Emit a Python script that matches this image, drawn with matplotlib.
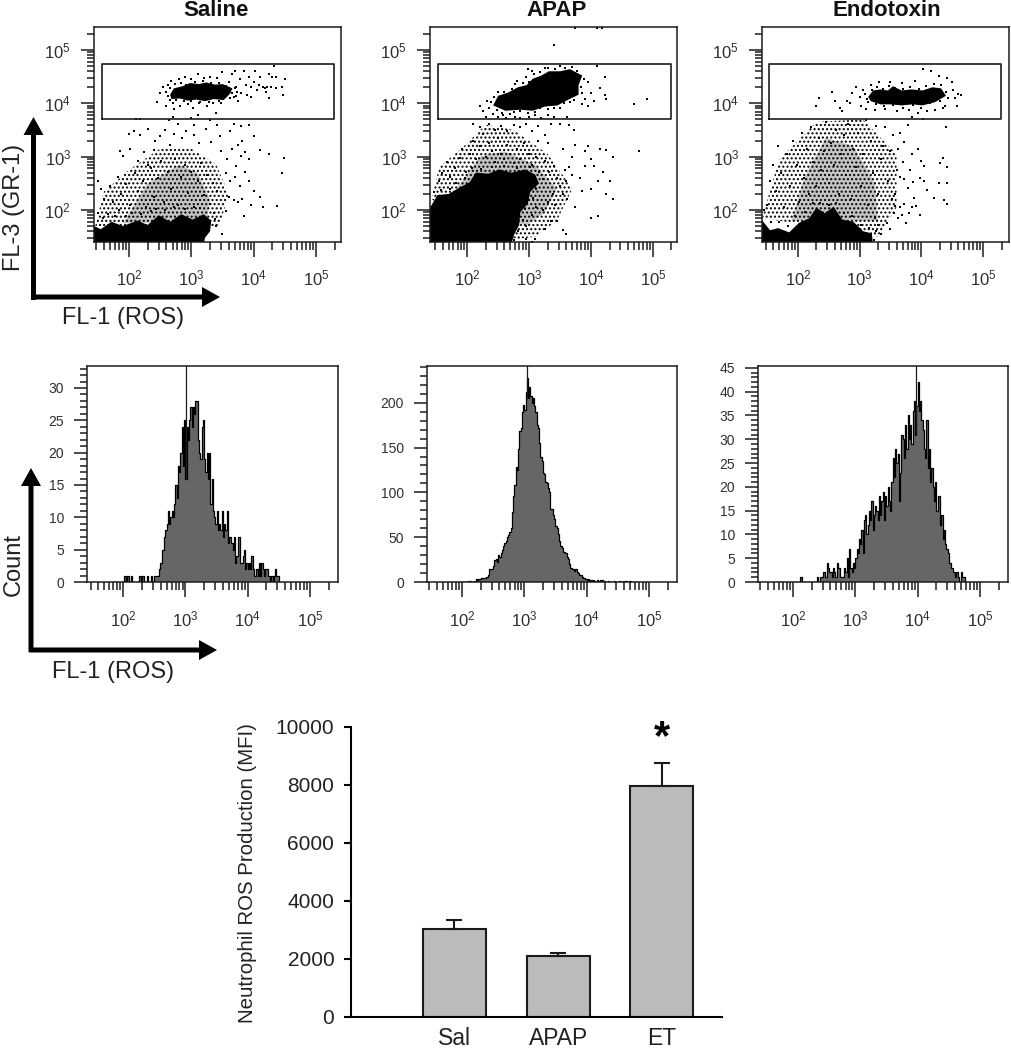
import numpy as np
import matplotlib
matplotlib.use('Agg')
import matplotlib.pyplot as plt

plt.rcParams['font.family'] = ['Liberation Sans', 'DejaVu Sans']
plt.rcParams['mathtext.fontset'] = 'custom'
plt.rcParams['mathtext.rm'] = 'Liberation Sans'
plt.rcParams['mathtext.default'] = 'regular'

W, H = 1012, 1050

titles = ['Saline', 'APAP', 'Endotoxin']
decades = [2, 3, 4, 5]
bar_labels = ['Sal', 'APAP', 'ET']
bar_values = [3030, 2115, 7980]
bar_errors = [325, 90, 780]
bar_yticks = [0, 2000, 4000, 6000, 8000, 10000]

# gate on FL-3, log10 units
gate_x = [[1.57, 5.29], [1.53, 5.29], [1.53, 5.29]]
gate_y = [3.70, 4.73]

saline_gate_blob = [(2.66, 4.16), (2.72, 4.28), (2.86, 4.32), (2.98, 4.38), (3.12, 4.36), (3.24, 4.39), (3.38, 4.35), (3.50, 4.36), (3.66, 4.28), (3.62, 4.18), (3.52, 4.06), (3.36, 4.08), (3.22, 4.04), (3.08, 4.07), (2.94, 4.05), (2.82, 4.09), (2.68, 4.08)]
saline_low_blob = [(1.4, 1.3), (1.4, 1.72), (1.55, 1.64), (1.72, 1.78), (1.90, 1.70), (2.14, 1.80), (2.30, 1.72), (2.48, 1.90), (2.66, 1.78), (2.84, 1.92), (3.02, 1.82), (3.20, 1.92), (3.32, 1.80), (3.30, 1.60), (3.22, 1.48), (3.19, 1.3)]
apap_gate_blob = [(2.42, 3.96), (2.50, 4.14), (2.66, 4.20), (2.82, 4.30), (2.96, 4.34), (3.06, 4.46), (3.20, 4.52), (3.32, 4.60), (3.50, 4.60), (3.66, 4.64), (3.86, 4.52), (3.80, 4.34), (3.80, 4.16), (3.62, 4.06), (3.46, 3.96), (3.26, 3.94), (3.06, 3.86), (2.86, 3.88), (2.62, 3.86)]
apap_low_blob = [(1.4, 1.3), (1.4, 2.04), (1.52, 2.28), (1.70, 2.30), (1.88, 2.42), (2.04, 2.52), (2.14, 2.70), (2.34, 2.68), (2.52, 2.76), (2.72, 2.70), (2.94, 2.76), (3.10, 2.66), (3.16, 2.50), (3.02, 2.34), (2.98, 2.12), (2.86, 1.96), (2.84, 1.72), (2.76, 1.54), (2.70, 1.3)]
et_gate_blob = [(3.14, 4.12), (3.22, 4.24), (3.34, 4.26), (3.46, 4.24), (3.54, 4.32), (3.68, 4.24), (3.84, 4.26), (4.02, 4.24), (4.18, 4.30), (4.32, 4.28), (4.40, 4.14), (4.22, 4.02), (4.02, 3.96), (3.86, 3.98), (3.68, 3.96), (3.50, 3.98), (3.34, 3.98), (3.18, 4.04)]
et_low_blob = [(1.4, 1.3), (1.4, 1.84), (1.55, 1.62), (1.68, 1.66), (1.86, 1.58), (2.02, 1.76), (2.18, 1.84), (2.30, 2.04), (2.44, 1.94), (2.58, 2.06), (2.72, 1.82), (2.90, 1.78), (3.06, 1.60), (3.20, 1.56), (3.22, 1.3)]

# speckled regions, outer one thin and inner one heavier
saline_cloud = [(1.46, 1.7), (1.6, 2.35), (2.0, 2.75), (2.5, 3.15), (3.0, 3.15), (3.4, 2.85), (3.6, 2.3), (3.45, 1.7)]
saline_core = [(1.9, 1.75), (2.3, 2.5), (2.8, 2.85), (3.1, 2.7), (3.3, 2.2), (3.25, 1.8)]
apap_cloud = [(1.42, 2.2), (1.55, 2.8), (1.95, 3.2), (2.3, 3.6), (2.75, 3.5), (3.3, 3.05), (3.7, 2.4), (3.45, 1.8), (3.1, 1.5), (2.8, 1.45)]
apap_core = [(1.8, 2.35), (2.2, 3.0), (2.6, 3.1), (3.1, 2.85), (3.45, 2.4), (3.25, 1.95), (2.95, 1.7)]
et_cloud = [(1.42, 1.85), (1.7, 2.95), (2.3, 3.65), (3.05, 3.7), (3.6, 3.05), (3.6, 2.05), (3.3, 1.5)]
et_core = [(1.9, 1.8), (2.1, 2.6), (2.45, 3.35), (2.9, 3.2), (3.25, 2.5), (3.3, 1.8)]

# single events (log10 FL-1, log10 FL-3)
saline_pts = [
    (3.60, 4.40), (3.65, 4.55), (3.70, 4.60), (3.72, 4.30), (3.78, 4.45), (3.80, 4.20), (3.85, 4.60), (3.88, 4.35),
    (3.90, 4.15), (3.92, 4.50), (3.95, 4.30), (4.00, 4.40), (4.02, 4.60), (4.05, 4.25), (4.08, 4.35), (4.10, 4.50),
    (4.15, 4.30), (4.18, 4.28), (4.20, 4.22), (4.22, 4.30), (4.25, 4.55), (4.28, 4.30), (4.30, 4.50), (4.33, 4.70),
    (4.35, 4.28), (4.36, 4.50), (4.45, 4.30), (4.47, 4.15), (4.50, 4.45), (4.25, 4.10), (3.75, 4.05), (3.95, 4.12),
    (2.45, 4.02), (2.50, 4.20), (2.55, 4.30), (2.60, 3.95), (2.62, 4.35), (2.68, 4.42), (2.70, 4.00), (2.72, 3.90),
    (2.80, 4.45), (2.82, 3.95), (2.90, 4.50), (2.95, 3.98), (3.00, 4.45), (3.02, 3.92), (3.10, 4.55), (3.12, 4.00),
    (3.20, 4.48), (3.25, 3.95), (3.30, 4.50), (3.35, 4.00), (3.40, 3.82), (3.42, 4.47), (3.48, 4.00), (3.50, 4.58),
    (2.12, 3.70), (2.18, 3.70), (2.65, 3.68), (2.70, 3.75), (2.78, 3.62), (3.00, 3.72), (3.05, 3.60), (3.10, 3.78),
    (3.30, 3.68), (3.42, 3.60), (3.68, 3.62), (3.80, 3.58), (3.92, 3.60), (2.00, 3.42), (2.08, 3.48), (2.18, 3.40),
    (2.30, 3.52), (2.42, 3.30), (2.50, 3.38), (2.58, 3.50), (2.66, 3.22), (2.72, 3.42), (2.85, 3.35), (2.92, 3.48),
    (3.05, 3.40), (3.12, 3.25), (3.24, 3.52), (3.32, 3.28), (3.46, 3.38), (3.62, 3.48), (3.75, 3.22), (3.82, 3.30),
    (4.00, 3.38), (1.85, 3.10), (1.90, 3.02), (2.02, 3.15), (2.14, 2.92), (2.24, 3.08), (2.30, 2.85), (2.40, 3.12),
    (3.48, 3.10), (3.58, 2.95), (3.66, 3.15), (3.72, 2.82), (3.80, 3.02), (3.86, 3.08), (3.92, 2.95), (4.10, 3.12),
    (4.25, 3.05), (4.48, 2.98), (4.45, 2.70), (3.55, 2.70), (3.62, 2.55), (3.70, 2.62), (3.78, 2.45), (3.86, 2.72),
    (3.92, 2.55), (3.60, 2.25), (3.68, 2.18), (3.75, 2.15), (3.82, 2.20), (3.95, 2.10), (4.10, 2.25), (4.15, 2.05),
    (4.00, 2.35), (4.38, 2.08), (3.55, 1.98), (3.85, 1.88), (3.40, 1.70), (3.50, 1.55), (1.50, 2.55), (1.55, 2.40),
    (1.60, 2.20), (1.70, 2.45), (1.75, 2.15), (1.82, 2.62), (1.88, 2.30), (1.95, 2.48), (2.02, 2.10), (2.10, 2.70),
    (2.15, 2.35), (2.22, 2.55), (2.28, 2.05), (2.35, 2.78), (2.40, 2.25), (2.46, 2.60), (2.52, 2.92), (2.56, 2.15),
    (2.62, 2.72), (2.68, 2.40), (2.74, 2.95), (2.78, 2.10), (2.84, 2.62), (2.90, 2.85), (2.95, 2.32), (3.00, 2.72),
    (3.05, 2.05), (3.10, 2.55), (3.15, 2.88), (3.20, 2.28), (3.25, 2.65), (3.30, 2.12), (3.35, 2.50), (3.42, 2.35),
    (1.50, 1.95), (1.58, 1.85), (1.66, 1.92), (1.78, 1.88), (1.84, 2.00), (1.96, 1.88), (2.05, 1.95), (2.20, 1.92),
    (2.35, 1.98), (2.44, 2.02), (2.58, 2.00), (2.72, 2.05), (2.90, 2.02), (3.14, 2.04), (3.36, 1.94), (3.38, 1.84),
    (2.62, 4.14), (2.60, 4.22), (2.66, 4.28), (2.74, 4.36), (2.84, 4.38), (2.92, 4.34), (3.06, 4.40), (3.18, 4.42),
    (3.32, 4.38), (3.44, 4.38), (3.56, 4.32), (3.66, 4.20), (3.68, 4.12), (3.62, 4.10), (3.44, 4.04), (3.28, 4.02),
    (3.14, 4.02), (3.00, 4.04), (2.88, 4.04), (2.76, 4.06), (2.66, 4.06), (3.70, 4.28), (3.74, 4.22), (3.72, 4.14),
]
apap_pts = [
    (3.75, 5.42), (4.10, 5.42), (4.18, 5.42), (3.40, 5.10), (2.98, 4.65), (4.10, 4.70), (4.22, 4.50), (3.95, 4.40),
    (4.00, 4.20), (4.05, 4.05), (4.15, 4.28), (4.22, 4.15), (4.25, 4.08), (3.90, 4.08), (3.95, 3.95), (3.85, 3.98),
    (4.70, 3.98), (4.90, 4.08), (2.80, 4.42), (2.95, 4.50), (3.05, 4.60), (3.30, 4.66), (3.50, 4.70), (3.70, 4.68),
    (2.20, 3.95), (2.25, 3.85), (2.32, 4.05), (2.30, 3.75), (2.42, 3.80), (2.50, 3.75), (2.62, 3.72), (2.70, 3.80),
    (2.78, 3.75), (2.85, 3.72), (3.00, 3.75), (3.10, 3.78), (3.20, 3.72), (3.30, 3.78), (3.40, 3.75), (3.62, 3.75),
    (2.10, 3.62), (2.20, 3.55), (2.35, 3.62), (2.45, 3.50), (2.55, 3.58), (2.65, 3.48), (2.75, 3.60), (2.85, 3.55),
    (2.95, 3.62), (3.05, 3.48), (3.15, 3.58), (3.25, 3.40), (3.35, 3.62), (3.50, 3.62), (3.65, 3.60), (3.72, 3.50),
    (3.15, 3.30), (3.30, 3.25), (3.55, 3.15), (3.75, 3.22), (3.95, 3.20), (3.70, 3.00), (3.90, 3.10), (4.00, 2.95),
    (4.15, 3.15), (4.25, 3.12), (4.35, 3.00), (4.78, 3.10), (3.65, 2.80), (3.70, 2.65), (3.82, 2.60), (3.90, 2.82),
    (4.05, 2.82), (4.20, 2.72), (4.12, 2.55), (4.30, 2.55), (3.85, 2.35), (4.00, 2.40), (4.25, 2.30), (4.35, 2.20),
    (3.75, 2.05), (4.00, 1.85), (4.12, 1.88), (3.35, 1.80), (3.45, 1.80), (3.25, 1.65), (3.55, 1.62), (3.60, 1.55),
    (3.05, 1.40), (3.10, 1.45), (2.95, 1.45), (1.55, 2.55), (1.60, 2.70), (1.68, 2.90), (1.72, 2.62), (1.80, 2.78),
    (1.88, 2.98), (1.92, 3.15), (1.98, 2.72), (2.05, 3.05), (2.10, 3.30), (2.15, 2.95), (2.20, 3.20), (2.25, 3.42),
    (2.30, 3.00), (2.35, 3.25), (2.40, 3.10), (2.45, 2.90), (2.50, 3.35), (2.55, 3.05), (2.60, 2.95), (2.65, 3.22),
    (2.70, 3.05), (2.75, 2.88), (2.80, 3.15), (2.85, 2.95), (2.92, 3.25), (3.00, 3.05), (3.05, 2.85), (3.12, 3.00),
    (3.25, 2.92), (3.32, 2.72), (3.40, 2.82), (3.45, 2.60), (3.50, 2.45), (3.38, 2.30), (3.30, 2.15), (3.22, 2.00),
    (3.12, 2.05), (3.05, 1.90), (2.95, 1.70), (3.42, 2.10), (3.55, 2.30), (3.60, 2.55), (3.58, 2.75), (3.62, 2.20),
    (2.36, 3.92), (2.38, 4.02), (2.44, 4.12), (2.50, 4.22), (2.60, 4.22), (2.72, 4.26), (2.78, 4.36), (2.90, 4.38),
    (3.00, 4.40), (3.08, 4.54), (3.18, 4.58), (3.26, 4.66), (3.42, 4.64), (3.58, 4.66), (3.78, 4.60), (3.88, 4.46),
    (3.84, 4.30), (3.86, 4.20), (3.72, 4.06), (3.56, 4.00), (3.40, 3.92), (3.18, 3.92), (2.98, 3.82), (2.76, 3.84),
    (2.56, 3.82), (2.48, 3.88), (2.58, 3.78), (2.86, 3.86), (3.10, 3.84), (3.30, 3.90), (3.50, 3.92), (3.66, 4.02),
    (1.46, 2.34), (1.58, 2.38), (1.72, 2.40), (1.82, 2.50), (1.96, 2.60), (2.08, 2.78), (2.22, 2.76), (2.40, 2.80),
    (2.60, 2.82), (2.80, 2.78), (3.02, 2.80), (3.16, 2.72), (3.22, 2.58), (3.12, 2.40), (3.06, 2.22), (2.94, 2.02),
    (2.90, 1.82), (2.82, 1.60), (2.76, 1.44),
]
et_pts = [
    (2.30, 3.95), (2.35, 4.10), (2.55, 4.22), (2.60, 4.05), (2.68, 3.92), (2.72, 3.85), (2.80, 4.05), (2.85, 4.00),
    (2.88, 4.20), (2.95, 4.30), (3.00, 4.12), (3.02, 3.95), (3.05, 4.25), (3.10, 3.90), (3.18, 4.35), (3.25, 3.88),
    (3.32, 4.40), (3.42, 3.90), (3.50, 4.40), (3.60, 3.85), (3.68, 4.38), (3.80, 3.88), (3.90, 4.42), (3.95, 3.82),
    (4.02, 4.65), (4.10, 3.85), (4.15, 4.60), (4.22, 3.88), (4.28, 4.52), (4.35, 3.92), (4.42, 4.48), (4.50, 4.40),
    (4.52, 4.25), (4.55, 4.10), (4.60, 4.18), (4.65, 4.15), (4.38, 3.95), (4.58, 3.95), (3.85, 3.75), (4.02, 3.70),
    (4.40, 3.55), (1.50, 2.10), (1.55, 2.55), (1.60, 2.85), (1.65, 2.35), (1.68, 3.20), (1.72, 2.70), (1.78, 2.05),
    (1.82, 3.05), (1.88, 2.45), (1.92, 3.30), (1.98, 2.85), (2.02, 2.15), (2.06, 3.45), (2.10, 2.60), (2.15, 3.15),
    (2.18, 2.30), (2.22, 3.55), (2.25, 2.90), (2.30, 2.45), (2.35, 3.35), (2.38, 2.75), (2.42, 3.10), (2.46, 3.65),
    (2.50, 2.50), (2.54, 3.25), (2.58, 2.85), (2.62, 3.50), (2.66, 2.30), (2.70, 3.05), (2.74, 3.40), (2.78, 2.65),
    (2.82, 3.62), (2.86, 2.20), (2.90, 3.15), (2.94, 2.80), (2.98, 3.45), (3.02, 2.45), (3.06, 3.05), (3.10, 3.68),
    (3.14, 2.10), (3.18, 3.30), (3.22, 2.70), (3.26, 3.58), (3.30, 2.30), (3.34, 2.95), (3.38, 3.20), (3.42, 3.55),
    (3.46, 2.55), (3.50, 3.10), (3.54, 3.40), (3.58, 2.30), (3.62, 3.15), (3.66, 3.45), (3.72, 3.28), (3.78, 3.60),
    (3.85, 3.05), (3.52, 2.20), (3.55, 1.95), (3.58, 2.08), (3.62, 1.85), (3.65, 2.05), (3.68, 1.90), (3.72, 2.12),
    (3.76, 1.75), (3.80, 1.95), (3.85, 2.05), (3.88, 2.22), (3.92, 2.08), (3.98, 1.90), (3.72, 2.58), (3.78, 2.42),
    (3.82, 2.75), (3.86, 2.52), (3.98, 2.60), (4.05, 2.55), (4.10, 2.38), (4.20, 2.22), (4.00, 2.92), (4.05, 2.82),
    (4.30, 2.88), (4.35, 2.98), (4.42, 2.80), (4.28, 2.50), (4.42, 2.50), (4.36, 2.18), (4.42, 2.12), (3.95, 3.15),
    (3.70, 2.90), (3.65, 2.62), (3.60, 2.75), (3.45, 1.75), (3.50, 1.65), (3.30, 1.72), (3.35, 1.55), (3.25, 1.85),
    (3.08, 4.18), (3.12, 4.08), (3.20, 4.24), (3.28, 4.30), (3.38, 4.26), (3.48, 4.32), (3.58, 4.28), (3.70, 4.26),
    (3.82, 4.30), (3.96, 4.26), (4.08, 4.32), (4.20, 4.36), (4.32, 4.34), (4.40, 4.22), (4.44, 4.10), (4.30, 4.04),
    (4.14, 4.00), (4.00, 3.92), (3.86, 3.96), (3.70, 3.92), (3.54, 3.96), (3.40, 3.94), (3.26, 3.98), (3.14, 4.02),
    (1.46, 2.00), (1.56, 1.78), (1.70, 1.78), (1.84, 1.70), (1.96, 1.88), (2.12, 1.96), (2.24, 2.14), (2.36, 2.14),
    (2.50, 2.10), (2.62, 2.14), (2.74, 1.94), (2.88, 1.88), (3.02, 1.72), (3.16, 1.66), (3.26, 1.60), (3.24, 1.44),
]
scatter_pts = [saline_pts, apap_pts, et_pts]
scatter_blobs = [[saline_gate_blob, saline_low_blob], [apap_gate_blob, apap_low_blob], [et_gate_blob, et_low_blob]]
scatter_clouds = [saline_cloud, apap_cloud, et_cloud]
scatter_cores = [saline_core, apap_core, et_core]

# histograms: counts in bins 0.02 decade wide, starting at 10^2
hist_start = 2.0
hist_step = 0.02
saline_hist = [
    0, 1, 0, 1, 1, 0, 1, 0, 0, 0, 0, 0, 0, 1, 0, 1, 1, 0, 0, 1,
    0, 0, 1, 0, 0, 1, 1, 1, 1, 2, 3, 5, 5, 7, 8, 9, 11, 9, 10, 11,
    10, 12, 15, 13, 18, 17, 20, 24, 18, 25, 16, 24, 22, 25, 27, 24, 27, 26, 28, 28,
    22, 20, 19, 24, 25, 19, 17, 20, 16, 20, 12, 16, 11, 10, 9, 11, 8, 9, 8, 11,
    7, 9, 8, 11, 6, 7, 7, 6, 5, 7, 3, 4, 7, 7, 3, 3, 4, 5, 2, 3,
    2, 3, 2, 4, 2, 1, 1, 2, 1, 3, 1, 3, 2, 1, 2, 2, 1, 1, 0, 1,
    0, 1, 2, 1, 1, 0,
]
apap_hist = [
    0, 0, 0, 0, 0, 1, 1, 0, 0, 0, 1, 3, 2, 3, 3, 4, 4, 5, 5, 6,
    6, 8, 14, 15, 14, 18, 24, 26, 22, 30, 28, 32, 36, 40, 44, 46, 50, 52, 56, 60,
    78, 96, 108, 128, 125, 148, 168, 172, 190, 198, 192, 212, 228, 205, 218, 208, 200, 205, 196, 190,
    175, 172, 155, 140, 135, 122, 120, 112, 110, 105, 100, 82, 82, 75, 70, 62, 60, 54, 46, 40,
    38, 34, 33, 32, 28, 26, 20, 16, 14, 15, 12, 14, 11, 10, 8, 8, 6, 4, 4, 3,
    2, 3, 1, 2, 1, 2, 1, 0, 2, 1, 1, 2, 2, 1, 1, 0, 0, 1, 0, 0,
    0, 0, 1, 0, 0, 0, 1, 0, 0, 1, 0, 1, 0, 0, 1, 1, 0,
]
et_hist = [
    0, 0, 0, 0, 0, 0, 1, 0, 0, 0, 0, 0, 0, 0, 0, 0, 0, 0, 0, 1,
    0, 0, 1, 1, 2, 2, 1, 4, 3, 2, 2, 1, 3, 2, 1, 4, 3, 3, 1, 1,
    1, 3, 2, 5, 1, 7, 3, 2, 4, 3, 5, 7, 6, 9, 8, 11, 6, 13, 14, 10,
    12, 15, 13, 17, 11, 14, 16, 15, 13, 18, 14, 17, 19, 13, 18, 16, 20, 17, 15, 21,
    26, 22, 28, 25, 27, 17, 23, 31, 30, 26, 33, 28, 35, 30, 33, 29, 36, 38, 31, 37,
    42, 36, 38, 34, 32, 28, 26, 34, 24, 28, 21, 24, 20, 17, 21, 15, 18, 18, 12, 14,
    9, 11, 8, 7, 6, 4, 4, 3, 2, 2, 1, 2, 1, 0, 0, 2, 1, 1, 0, 0,
]
hists = [saline_hist, apap_hist, et_hist]
# the single tall line in each histogram: log10 position, lower end in counts
hist_spike_x = [3.01, 3.05, 3.97]
hist_spike_low = [16, 205, 31]
hist_tops = [33.4, 241, 45.4]
hist_majors = [np.arange(0, 31, 5), np.arange(0, 201, 50), np.arange(0, 46, 5)]
hist_minors = [np.arange(0, 34, 1), np.arange(0, 241, 10), np.arange(0, 46, 1)]

# panel frames in pixels (left, top, right, bottom) and log limits
scatter_boxes = [(94, 27, 341, 242), (430, 27, 677, 242), (762, 27, 1009, 242)]
scatter_xlims = [(1.44, 5.40), (1.40, 5.39), (1.42, 5.42)]
scatter_ylim = (1.40, 5.43)
hist_boxes = [(87, 366, 338, 582), (427, 366, 677, 582), (758, 366, 1008, 582)]
hist_xlims = [(1.42, 5.45), (1.44, 5.45), (1.44, 5.45)]
title_x = [216, 557, 887]

FRAME = '#1c1c1c'
TICKTXT = '#303030'


def add_box(box):
    l, t, r, b = box
    return fig.add_axes([l / W, 1 - b / H, (r - l) / W, (b - t) / H])


def log_minors(low, high):
    out = []
    for d in range(1, 6):
        for m in range(2, 10):
            v = m * 10.0 ** d
            if low <= np.log10(v) <= high:
                out.append(v)
    return out


def flow_xaxis(ax, xlim, pad):
    ax.set_xscale('log')
    ax.set_xlim(10 ** xlim[0], 10 ** xlim[1])
    ax.set_xticks([10.0 ** d for d in decades])
    ax.set_xticklabels(['$10^{%d}$' % d for d in decades])
    ax.set_xticks(log_minors(xlim[0], xlim[1]), minor=True)
    ax.set_xticklabels([], minor=True)
    ax.tick_params(axis='x', which='major', length=11, width=1.1, pad=pad, labelsize=12, labelcolor=TICKTXT, color=FRAME)
    ax.tick_params(axis='x', which='minor', length=6, width=1.1, color=FRAME)
    for s in ax.spines.values():
        s.set_linewidth(1.1)
        s.set_color(FRAME)


fig = plt.figure(figsize=(W / 100, H / 100), dpi=100)

# dot plots
for i in range(3):
    ax = add_box(scatter_boxes[i])
    flow_xaxis(ax, scatter_xlims[i], 8)
    ax.set_yscale('log')
    ax.set_ylim(10 ** scatter_ylim[0], 10 ** scatter_ylim[1])
    ax.set_yticks([10.0 ** d for d in decades])
    ax.set_yticklabels(['$10^{%d}$' % d for d in decades])
    ax.set_yticks(log_minors(scatter_ylim[0], scatter_ylim[1]), minor=True)
    ax.set_yticklabels([], minor=True)
    ax.tick_params(axis='y', which='major', length=9.5, width=1.1, pad=7, labelsize=12, labelcolor=TICKTXT, color=FRAME)
    ax.tick_params(axis='y', which='minor', length=5, width=1.1, color=FRAME)

    # grey under the core, one hatch over all, two hatches beat into a moire
    kx, ky = zip(*scatter_cores[i])
    ax.fill(10 ** np.array(kx), 10 ** np.array(ky), color='#c4c4c4', linewidth=0)
    cx, cy = zip(*scatter_clouds[i])
    ax.fill(10 ** np.array(cx), 10 ** np.array(cy), facecolor='none', edgecolor='black', hatch='....', linewidth=0)
    for blob in scatter_blobs[i]:
        bx, by = zip(*blob)
        ax.fill(10 ** np.array(bx), 10 ** np.array(by), color='black', linewidth=0)
    px, py = zip(*scatter_pts[i])
    ax.scatter(10 ** np.array(px), 10 ** np.array(py), s=2.4, c='black', marker='s', linewidths=0, clip_on=True)

    gx = 10 ** np.array(gate_x[i])
    gy = 10 ** np.array(gate_y)
    ax.plot([gx[0], gx[1], gx[1], gx[0], gx[0]], [gy[0], gy[0], gy[1], gy[1], gy[0]], color=FRAME, lw=1.2)

# histograms
for i in range(3):
    ax = add_box(hist_boxes[i])
    flow_xaxis(ax, hist_xlims[i], 8.5)
    ax.set_ylim(0, hist_tops[i])
    ax.set_yticks(hist_majors[i])
    ax.set_yticks(hist_minors[i], minor=True)
    ax.tick_params(axis='y', which='major', length=9.5, width=1.1, pad=7, labelsize=10, labelcolor=TICKTXT, color=FRAME)
    ax.tick_params(axis='y', which='minor', length=5, width=1.1, color=FRAME)

    counts = np.array(hists[i] + [0], dtype=float)
    edges = 10 ** (hist_start + hist_step * np.arange(len(counts)))
    ax.fill_between(edges, counts, 0, step='post', color='#666666', linewidth=0)
    ax.step(edges, counts, where='post', color='black', lw=0.9)
    ax.plot([10 ** hist_spike_x[i]] * 2, [hist_spike_low[i], hist_tops[i]], color=FRAME, lw=0.9)

# bar chart
ax = add_box((351, 727, 722, 1017))
bar_pos = np.arange(1, 4)
ax.bar(bar_pos, bar_values, width=0.605, color='#bbbbbb', edgecolor='#1a1a1a', linewidth=1.5)
ax.errorbar(bar_pos, bar_values, yerr=[np.zeros(3), bar_errors], fmt='none', ecolor='#1a1a1a', elinewidth=1.5, capsize=6, capthick=1.5)
ax.set_xlim(0.002, 3.58)
ax.set_ylim(0, 10000)
ax.set_yticks(bar_yticks)
ax.set_xticks(bar_pos)
ax.set_xticklabels(bar_labels)
ax.spines['top'].set_visible(False)
ax.spines['right'].set_visible(False)
ax.spines['left'].set_linewidth(1.5)
ax.spines['bottom'].set_linewidth(1.5)
ax.tick_params(axis='y', length=5, width=1.5, pad=7, labelsize=15, labelcolor='#222222')
ax.tick_params(axis='x', length=0, pad=7.5, labelsize=16.5, labelcolor='#222222')

# overlay in pixel coordinates for the big arrows and free labels
ov = fig.add_axes([0, 0, 1, 1], zorder=5)
ov.set_xlim(0, W)
ov.set_ylim(H, 0)
ov.axis('off')
ov.patch.set_alpha(0)

arrow_style = dict(width=5, head_width=20, head_length=18, length_includes_head=True, color='black', linewidth=0)
ov.arrow(33.5, 300, 0, -183, **arrow_style)
ov.arrow(31, 297, 189, 0, **arrow_style)
ov.arrow(31, 652, 0, -184, **arrow_style)
ov.arrow(29, 650, 188, 0, **arrow_style)

ov.text(123, 318, 'FL-1 (ROS)', fontsize=17, color='#222222', ha='center', va='center')
ov.text(113, 672, 'FL-1 (ROS)', fontsize=17, color='#222222', ha='center', va='center')
ov.text(14, 207, 'FL-3 (GR-1)', fontsize=17, color='#222222', ha='center', va='center', rotation=90)
ov.text(14, 565, 'Count', fontsize=17, color='#222222', ha='center', va='center', rotation=90)
ov.text(248, 873, 'Neutrophil ROS Production (MFI)', fontsize=14.7, color='#222222', ha='center', va='center', rotation=90)
ov.text(662, 738, '*', fontsize=30, fontweight='bold', color='black', ha='center', va='center')
for i in range(3):
    ov.text(title_x[i], 11, titles[i], fontsize=16, fontweight='bold', color='#111111', ha='center', va='center')

fig.savefig('out.png', dpi=100)
